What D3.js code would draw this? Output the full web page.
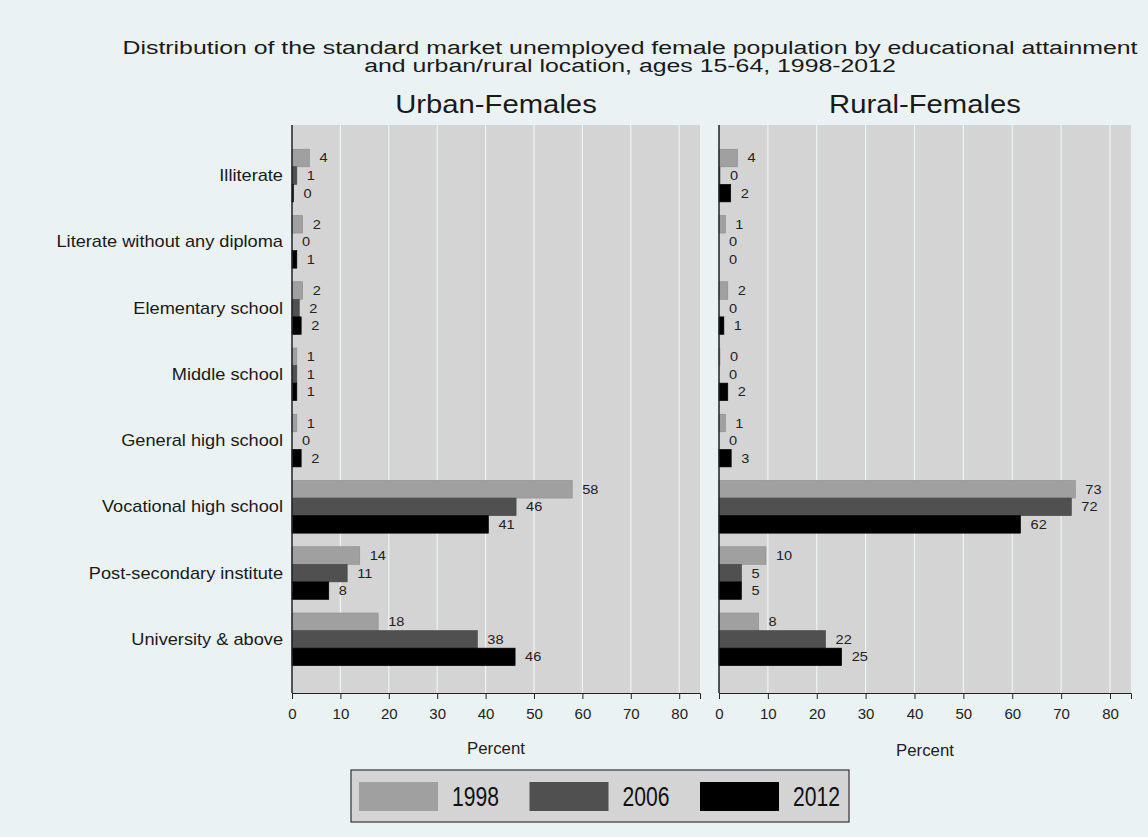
<!DOCTYPE html>
<html>
<head>
<meta charset="utf-8">
<script src="https://cdn.jsdelivr.net/npm/d3@7"></script>
<style>
  body { margin: 0; background: #eaf2f3; }
  svg { display: block; font-family: "Liberation Sans", Arial, sans-serif; }
</style>
</head>
<body>
<div id="chart"></div>
<script>
// data (bar lengths are estimates, labels are rounded)
const categories = [
    'Illiterate', 'Literate without any diploma', 'Elementary school', 'Middle school',
    'General high school', 'Vocational high school', 'Post-secondary institute', 'University & above'
];
const years = ['1998', '2006', '2012'];
const urban1998 = [3.6, 2.2, 2.2, 1.0, 1.0, 57.9, 14.0, 17.8];
const urban2006 = [1.0, 0.0, 1.5, 1.0, 0.0, 46.3, 11.4, 38.3];
const urban2012 = [0.3, 1.0, 1.9, 1.0, 1.9, 40.6, 7.6, 46.1];
const rural1998 = [3.8, 1.3, 1.8, 0.2, 1.3, 72.9, 9.6, 8.1];
const rural2006 = [0.2, 0.0, 0.0, 0.0, 0.0, 72.1, 4.6, 21.8];
const rural2012 = [2.4, 0.0, 1.0, 1.8, 2.5, 61.7, 4.6, 25.1];
const xTicks = [0, 10, 20, 30, 40, 50, 60, 70, 80];
const titleLines = [
    'Distribution of the standard market unemployed female population by educational attainment',
    'and urban/rural location, ages 15-64, 1998-2012'
];

const panels = [
    { name: 'Urban-Females', series: [urban1998, urban2006, urban2012], x0: 292, x1: 700 },
    { name: 'Rural-Females', series: [rural1998, rural2006, rural2012], x0: 719, x1: 1131 }
];
const colors = d3.scaleOrdinal().domain(years).range(['#a0a0a0', '#505050', '#000000']);

const width = 1148, height = 837;
const plotTop = 125, plotBottom = 693;

// the original's lettering is a bit wider than Liberation Sans
function stretch(sel, k) {
    sel.each(function () {
        const w = this.getComputedTextLength();
        d3.select(this).attr('textLength', w * k).attr('lengthAdjust', 'spacingAndGlyphs');
    });
}

const svg = d3.select('#chart').append('svg')
    .attr('width', width).attr('height', height);

svg.append('rect').attr('width', width).attr('height', height).attr('fill', '#eaf2f3');

svg.selectAll('.title').data(titleLines).join('text')
    .attr('class', 'title')
    .attr('x', 630)
    .attr('y', (d, i) => 48 + i * 18)
    .attr('text-anchor', 'middle')
    .attr('dominant-baseline', 'central')
    .attr('font-size', 18)
    .attr('fill', '#1a1a1a')
    .text(d => d)
    .call(stretch, 1.38);

const y = d3.scaleBand().domain(categories).range([plotTop, plotBottom])
    .paddingInner(0.205).paddingOuter(0.389).align(0.47);
const yInner = d3.scaleBand().domain(years).range([0, y.bandwidth()]);

panels.forEach((panel, p) => {
    const x = d3.scaleLinear().domain([0, 84.3]).range([panel.x0, panel.x1]);
    const mid = (panel.x0 + panel.x1) / 2;
    const g = svg.append('g');

    g.append('rect')
        .attr('x', panel.x0).attr('y', plotTop)
        .attr('width', panel.x1 - panel.x0).attr('height', plotBottom - plotTop)
        .attr('fill', '#d4d4d4');

    g.selectAll('.grid').data(xTicks.slice(1)).join('line')
        .attr('class', 'grid')
        .attr('x1', d => x(d)).attr('x2', d => x(d))
        .attr('y1', plotTop).attr('y2', plotBottom)
        .attr('stroke', '#eef3f3').attr('stroke-width', 1.2);

    g.append('text')
        .attr('x', mid).attr('y', 104)
        .attr('text-anchor', 'middle').attr('dominant-baseline', 'central')
        .attr('font-size', 25).attr('fill', '#1a1a1a')
        .text(panel.name)
        .call(stretch, 1.17);

    const groups = g.selectAll('.cat').data(categories).join('g')
        .attr('class', 'cat')
        .attr('transform', d => `translate(0,${y(d)})`);

    const cells = groups.selectAll('.bar').data((c, i) => years.map((yr, s) => ({ yr, v: panel.series[s][i] })))
        .join('g').attr('class', 'bar');

    cells.append('rect')
        .attr('x', x(0))
        .attr('y', d => yInner(d.yr))
        .attr('width', d => x(d.v) - x(0))
        .attr('height', yInner.bandwidth())
        .attr('fill', d => colors(d.yr))
        .attr('stroke', d => d3.color(colors(d.yr)).darker(0.4))
        .attr('stroke-width', d => d.v > 0 ? 0.6 : 0);

    cells.append('text')
        .attr('x', d => x(d.v) + 10)
        .attr('y', d => yInner(d.yr) + yInner.bandwidth() / 2)
        .attr('dominant-baseline', 'central')
        .attr('font-size', 13)
        .attr('fill', '#222')
        .text(d => Math.round(d.v))
        .call(stretch, 1.12);

    // axes
    const axis = d3.axisBottom(x).tickValues(xTicks).tickSize(6).tickPadding(9);
    const ax = g.append('g').attr('transform', `translate(0,${plotBottom})`).call(axis);
    ax.select('.domain').attr('stroke', '#222');
    ax.selectAll('.tick line').attr('stroke', '#222');
    ax.selectAll('.tick text').attr('font-size', 15).attr('fill', '#222')
        .attr('font-family', '"Liberation Sans", Arial, sans-serif');

    g.append('line')
        .attr('x1', panel.x0).attr('x2', panel.x0)
        .attr('y1', plotTop).attr('y2', plotBottom)
        .attr('stroke', '#222').attr('stroke-width', 1.5);

    g.append('text')
        .attr('x', mid).attr('y', 748 + p * 2)
        .attr('text-anchor', 'middle').attr('dominant-baseline', 'central')
        .attr('font-size', 16).attr('fill', '#222')
        .text('Percent')
        .call(stretch, 1.05);

    if (p === 0) {
        svg.selectAll('.catlabel').data(categories).join('text')
            .attr('class', 'catlabel')
            .attr('x', 283)
            .attr('y', d => y(d) + y.bandwidth() / 2)
            .attr('text-anchor', 'end').attr('dominant-baseline', 'central')
            .attr('font-size', 17).attr('fill', '#1a1a1a')
            .text(d => d)
            .call(stretch, 1.07);
    }
});

// legend
const legend = svg.append('g');
legend.append('rect')
    .attr('x', 351).attr('y', 770).attr('width', 498).attr('height', 52)
    .attr('fill', '#d4d4d4').attr('stroke', '#333').attr('stroke-width', 1.2);
const lx = d3.scalePoint().domain(years).range([359, 700]);
const items = legend.selectAll('.item').data(years).join('g')
    .attr('class', 'item')
    .attr('transform', d => `translate(${lx(d)},782)`);
items.append('rect').attr('width', 79).attr('height', 29).attr('fill', d => colors(d));
items.append('text')
    .attr('x', 93).attr('y', 15)
    .attr('dominant-baseline', 'central')
    .attr('font-size', 27).attr('fill', '#111')
    .attr('textLength', 47).attr('lengthAdjust', 'spacingAndGlyphs')
    .text(d => d);
</script>
</body>
</html>
